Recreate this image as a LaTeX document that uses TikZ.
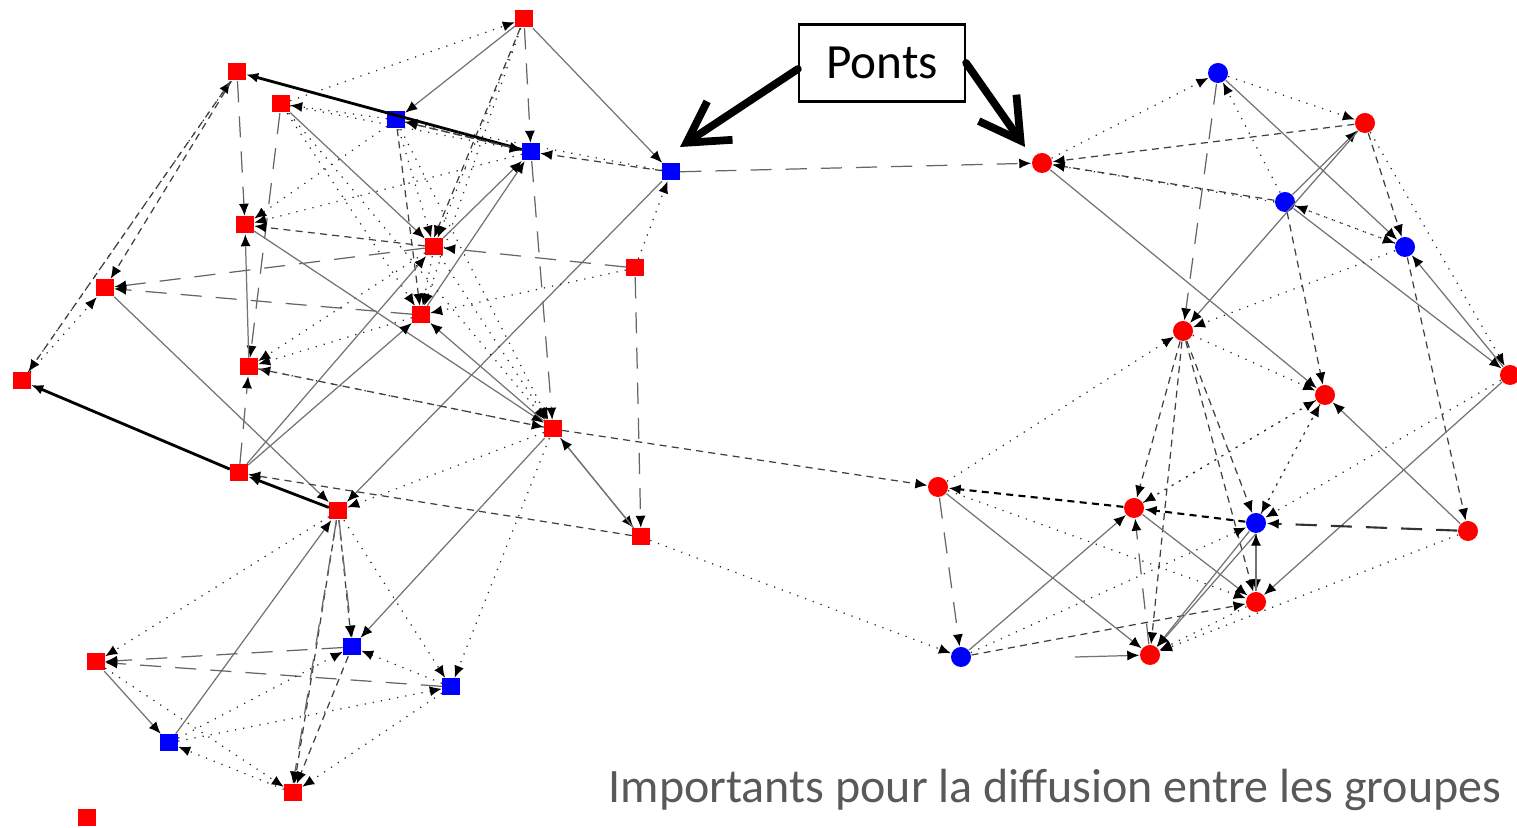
\documentclass[tikz,border=0pt]{standalone}
\usepackage{fontspec}
\setmainfont{Carlito}
\usetikzlibrary{arrows.meta}

\tikzset{
  sqr/.style={rectangle, fill=red, minimum size=0.17cm, inner sep=0pt},
  sqb/.style={rectangle, fill=blue, minimum size=0.17cm, inner sep=0pt},
  cir/.style={circle, fill=red, minimum size=0.2cm, inner sep=0pt},
  cib/.style={circle, fill=blue, minimum size=0.2cm, inner sep=0pt},
  ln/.style={-{Latex[length=1.2mm,width=1mm,black]}, black!75, line width=0.35pt},
  dt/.style={ln, black!85, dotted},
  ds/.style={ln, dash pattern=on 2pt off 1.5pt},
  ld/.style={ln, black!60, dash pattern=on 6pt off 4pt},
  sl/.style={ln, black!55},
  hv/.style={ln, black, line width=0.8pt},
  pont/.style={line width=2.2pt, line cap=round, -{Straight Barb[length=4mm,width=4.6mm,line width=2.2pt]}},
}

\begin{document}
\begin{tikzpicture}[x=0.01cm, y=-0.01cm]
\useasboundingbox (0,0) rectangle (1517,828);
%%   kw   (name)   (x, y)   {text}
    % groupe de gauche
    \node[sqr] (sq1) at (524, 19) {};
    \node[sqr] (sq2) at (237, 72) {};
    \node[sqr] (sq3) at (281, 104) {};
    \node[sqb] (sq4) at (396, 120) {};
    \node[sqb] (sq5) at (531, 152) {};
    \node[sqb] (sq6) at (671, 172) {};
    \node[sqr] (sq7) at (245, 225) {};
    \node[sqr] (sq8) at (434, 247) {};
    \node[sqr] (sq9) at (635, 268) {};
    \node[sqr] (sq10) at (105, 288) {};
    \node[sqr] (sq11) at (421, 315) {};
    \node[sqr] (sq12) at (249, 367) {};
    \node[sqr] (sq13) at (22, 381) {};
    \node[sqr] (sq14) at (553, 429) {};
    \node[sqr] (sq15) at (239, 473) {};
    \node[sqr] (sq16) at (338, 511) {};
    \node[sqr] (sq17) at (641, 537) {};
    \node[sqr] (sq18) at (96, 662) {};
    \node[sqb] (sq19) at (352, 647) {};
    \node[sqb] (sq20) at (451, 687) {};
    \node[sqb] (sq21) at (169, 743) {};
    \node[sqr] (sq22) at (293, 793) {};
    \node[sqr] (sq23) at (87, 818) {};

    % groupe de droite
    \node[cib] (ci1) at (1218, 73) {};
    \node[cir] (ci2) at (1365, 123) {};
    \node[cir] (ci3) at (1042, 163) {};
    \node[cib] (ci4) at (1285, 202) {};
    \node[cib] (ci5) at (1405, 247) {};
    \node[cir] (ci6) at (1183, 331) {};
    \node[cir] (ci7) at (1510, 375) {};
    \node[cir] (ci8) at (1325, 395) {};
    \node[cir] (ci9) at (938, 487) {};
    \node[cir] (ci10) at (1134, 508) {};
    \node[cib] (ci11) at (1256, 523) {};
    \node[cir] (ci12) at (1468, 531) {};
    \node[cir] (ci13) at (1256, 602) {};
    \node[cib] (ci14) at (961, 657) {};
    \node[cir] (ci15) at (1150, 655) {};
    \coordinate (st1) at (1075, 657);

    % liens du groupe de gauche
    \draw[dt] (sq3) -- (sq1);
    \draw[sl] (sq1) -- (sq4);
    \draw[dt] (sq1) -- (sq8);
    \draw[ds] (sq1) -- (sq8.north);
    \draw[dt] (sq1) -- (sq11);
    \draw[ld] (sq1) -- (sq5);
    \draw[sl] (sq1) -- (sq6);
    \draw[dt] (sq13) -- (sq2);
    \draw[ds] (sq2) -- (sq13);
    \draw[ds] (sq2) -- (sq10);
    \draw[dt] (sq13) -- (sq10);
    \draw[ld] (sq2) -- (sq7);
    \draw[ld] (sq3) -- (sq12);
    \draw[sl] (sq12) -- (sq7);
    \draw[ld] (sq15) -- (sq12);
    \draw[sl] (sq3) -- (sq8);
    \draw[dt] (sq3) -- (sq11);
    \draw[dt] (sq4) -- (sq3);
    \draw[hv] (sq5) -- (sq2);
    \draw[dt] (sq3) -- (sq5);
    \draw[dt] (sq4) -- (sq7);
    \draw[dt] (sq4) -- (sq8);
    \draw[ds] (sq4) -- (sq11);
    \draw[dt] (sq4) -- (sq14);
    \draw[ds] (sq5) -- (sq4);
    \draw[ds] (sq4) -- (sq5);
    \draw[ds] (sq6) -- (sq5);
    \draw[dt] (sq6) -- (sq4);
    \draw[sl] (sq8) -- (sq5);
    \draw[sl] (sq11) -- (sq5);
    \draw[dt] (sq9) -- (sq6);
    \draw[sl] (sq6) -- (sq16);
    \draw[ld] (sq9) -- (sq8);
    \draw[ld] (sq8) -- (sq10);
    \draw[ld] (sq11) -- (sq10);
    \draw[dt] (sq9) -- (sq11);
    \draw[ds] (sq8) -- (sq7);
    \draw[dt] (sq5) -- (sq7);
    \draw[dt] (sq8) -- (sq12);
    \draw[dt] (sq11) -- (sq12);
    \draw[dt] (sq14) -- (sq12);
    \draw[sl] (sq7) -- (sq14);
    \draw[dt] (sq3) -- (sq14);
    \draw[sl] (sq10) -- (sq16);
    \draw[hv] (sq15) -- (sq13);
    \draw[hv] (sq16) -- (sq15);
    \draw[sl] (sq15) -- (sq11);
    \draw[sl] (sq15) -- (sq8);
    \draw[sl] (sq14) -- (sq17);
    \draw[sl] (sq17) -- (sq14);
    \draw[ld] (sq9) -- (sq17);
    \draw[ld] (sq5) -- (sq14);
    \draw[ds] (sq12) -- (sq14);
    \draw[dt] (sq14) -- (sq16);
    \draw[sl] (sq14) -- (sq19);
    \draw[dt] (sq14) -- (sq20);
    \draw[sl] (sq14) -- (sq11);
    \draw[dt] (sq8) -- (sq11);
    \draw[dt] (sq8) -- (sq14);
    \draw[ds] (sq17) -- (sq15);
    \draw[dt] (sq16) -- (sq18);
    \draw[ds] (sq16) -- (sq22);
    \draw[ld] (sq16) -- (sq22.north);
    \draw[ds] (sq16) -- (sq19);
    \draw[ld] (sq16) -- (sq19.north);
    \draw[dt] (sq16) -- (sq20);
    \draw[sl] (sq21) -- (sq16);
    \draw[ld] (sq19) -- (sq18);
    \draw[ld] (sq20) -- (sq18);
    \draw[sl] (sq18) -- (sq21);
    \draw[dt] (sq18) -- (sq22);
    \draw[dt] (sq21) -- (sq19);
    \draw[dt] (sq21) -- (sq20);
    \draw[dt] (sq22) -- (sq21);
    \draw[dt] (sq20) -- (sq22);
    \draw[ds] (sq19) -- (sq22);
    \draw[dt] (sq20) -- (sq19);

    % liens entre les groupes
    \draw[ld] (sq6) -- (ci3);
    \draw[ds] (sq14) -- (ci9);
    \draw[dt] (sq17) -- (ci14);

    % liens du groupe de droite
    \draw[dt] (ci3) -- (ci1);
    \draw[ds] (ci2) -- (ci3);
    \draw[ds] (ci4) -- (ci3);
    \draw[dt] (ci4.west) -- (ci3);
    \draw[sl] (ci3) -- (ci8);
    \draw[dt] (ci1) -- (ci2);
    \draw[dt] (ci4) -- (ci1);
    \draw[sl] (ci1) -- (ci5);
    \draw[ld] (ci1) -- (ci6);
    \draw[sl] (ci4) -- (ci2);
    \draw[sl] (ci2) -- (ci6);
    \draw[ds] (ci2) -- (ci5);
    \draw[dt] (ci2) -- (ci7);
    \draw[dt] (ci4) -- (ci5);
    \draw[dt] (ci5) -- (ci4);
    \draw[sl] (ci4) -- (ci7);
    \draw[ds] (ci4) -- (ci8);
    \draw[dt] (ci5) -- (ci6);
    \draw[ds] (ci5) -- (ci12);
    \draw[sl] (ci7) -- (ci5);
    \draw[dt] (ci9) -- (ci6);
    \draw[dt] (ci6) -- (ci8);
    \draw[ds] (ci6) -- (ci10);
    \draw[ds] (ci6) -- (ci11);
    \draw[ds] (ci6) -- (ci13);
    \draw[ds] (ci6) -- (ci15);
    \draw[dt] (ci10) -- (ci8);
    \draw[dt] (ci11) -- (ci8);
    \draw[sl] (ci12) -- (ci8);
    \draw[sl] (ci7) -- (ci13);
    \draw[dt] (ci7) -- (ci11);
    \draw[ds, black, line width=0.6pt] (ci11) -- (ci10);
    \draw[ds, black, line width=0.6pt] (ci10) -- (ci9);
    \draw[ld] (ci9) -- (ci14);
    \draw[dt] (ci9) -- (ci13);
    \draw[sl] (ci9) -- (ci15);
    \draw[sl] (ci14) -- (ci10);
    \draw[dt] (ci14) -- (ci11);
    \draw[ds] (ci14) -- (ci13);
    \draw[ld] (ci15) -- (ci10);
    \draw[sl] (ci10) -- (ci13);
    \draw[sl] (ci11) -- (ci13);
    \draw[sl] (ci13) -- (ci11);
    \draw[sl] (ci11) -- (ci15);
    \draw[sl] (ci11.south) -- (ci15);
    \draw[ld, black!80, line width=0.6pt] (ci12) -- (ci11);
    \draw[dt] (ci12) -- (ci15);
    \draw[dt] (ci13) -- (ci15);
    \draw[dt] (ci8) -- (ci11);
    \draw[dt] (ci8) -- (ci10);
    \draw[sl] (st1) -- (ci15);

    % legende
    \node[draw, line width=0.6pt, minimum width=1.66cm, minimum height=0.77cm,
          font=\fontsize{14}{16}\selectfont] (pts) at (882, 63) {Ponts};
    \coordinate (pa) at (680, 147);
    \coordinate (pb) at (1025, 147);
    \draw[pont] ([yshift=-0.06cm]pts.west) -- (pa);
    \draw[pont] (pts.east) -- (pb);

    \node[anchor=base west, text=black!65, inner sep=0pt,
          font=\fontsize{13.65}{16}\selectfont] (txt) at (608, 803)
          {Importants pour la diffusion entre les groupes};
\end{tikzpicture}
\end{document}
